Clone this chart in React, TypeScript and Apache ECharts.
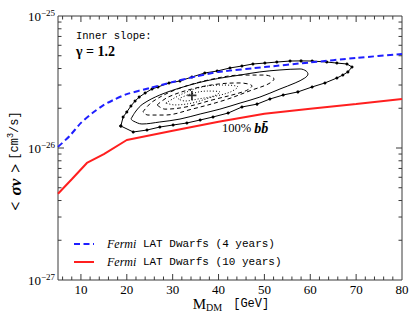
import React, { useEffect, useRef } from "react";
import * as echarts from "echarts";

// ---------- data (sigma v values are in units of 1e-26 cm^3/s) ----------
const UNIT_EXPONENT = -26;

const dwarfs4yName = "Fermi LAT Dwarfs (4 years)";
const dwarfs4yMass = [5, 7.5, 10, 12.5, 15, 17.5, 20, 25, 30, 35, 40, 50, 60, 70, 80];
const dwarfs4ySigma = [1.02, 1.23, 1.55, 1.84, 2.12, 2.35, 2.56, 2.85, 3.16, 3.48, 3.77, 4.1, 4.45, 4.81, 5.16];

const dwarfs10yName = "Fermi LAT Dwarfs (10 years)";
const dwarfs10yMass = [5, 8, 11.3, 15, 20, 30, 40, 50, 60, 70, 80];
const dwarfs10ySigma = [0.45, 0.58, 0.77, 0.9, 1.15, 1.35, 1.58, 1.82, 1.98, 2.15, 2.35];

// outermost contour (solid, with sample points)
const contourOuter: [number, number][] = [
  [18.7, 1.468], [19.2, 1.718], [20.0, 1.874], [20.9, 2.08], [21.8, 2.27], [22.7, 2.43],
  [24.0, 2.61], [25.5, 2.8], [26.8, 2.9], [29.2, 3.11], [31.6, 3.22], [34.2, 3.45],
  [37.0, 3.7], [39.7, 3.83], [42.5, 4.04], [45.1, 4.18], [47.5, 4.33], [50.1, 4.4],
  [52.7, 4.48], [55.6, 4.56], [58.0, 4.57], [60.4, 4.56], [63.6, 4.48], [65.8, 4.4],
  [68.0, 4.33], [69.1, 4.11], [68.2, 3.77], [67.1, 3.57], [65.8, 3.39], [63.2, 3.11],
  [60.4, 2.9], [57.3, 2.66], [54.1, 2.52], [51.2, 2.35], [48.4, 2.15], [45.1, 2.045],
  [42.1, 1.84], [38.8, 1.718], [36.0, 1.63], [33.1, 1.547], [30.1, 1.494], [27.2, 1.442],
  [24.4, 1.368], [21.4, 1.322], [18.7, 1.468],
];
// second contour (solid)
const contourSolid: [number, number][] = [
  [20.9, 1.657], [22.0, 1.906], [23.5, 2.155], [27.2, 2.52], [32.3, 2.9], [38.1, 3.27],
  [44.7, 3.57], [49.0, 3.77], [53.4, 3.9], [57.8, 3.97], [59.1, 3.83], [59.5, 3.63],
  [58.8, 3.39], [56.7, 3.11], [53.4, 2.8], [49.0, 2.43], [44.7, 2.19], [40.3, 1.97],
  [36.0, 1.81], [31.6, 1.657], [27.2, 1.574], [23.3, 1.52], [21.4, 1.602], [20.9, 1.657],
];
// dashed contours
const contourDashedA: [number, number][] = [
  [23.5, 1.874], [25.5, 2.23], [30.5, 2.75], [37.7, 3.27], [45.1, 3.57], [50.1, 3.57],
  [52.1, 3.33], [50.8, 3.05], [47.3, 2.75], [41.4, 2.31], [34.2, 1.97], [28.3, 1.777],
  [24.6, 1.777], [23.5, 1.874],
];
const contourDashedB: [number, number][] = [
  [26.6, 2.12], [29.0, 2.43], [34.2, 2.8], [39.9, 3.05], [44.7, 3.11], [47.3, 2.95],
  [45.8, 2.7], [38.6, 2.31], [32.7, 2.04], [28.3, 1.97], [26.6, 2.12],
];
// dotted contours
const contourDottedA: [number, number][] = [
  [28.5, 2.19], [32.0, 2.56], [36.4, 2.9], [40.8, 3.0], [44.2, 2.9], [42.5, 2.65],
  [38.6, 2.43], [34.2, 2.19], [30.5, 2.12], [28.5, 2.19],
];
const contourDottedB: [number, number][] = [
  [31.2, 2.35], [33.8, 2.56], [37.5, 2.7], [40.3, 2.65], [39.0, 2.48], [35.5, 2.35],
  [32.7, 2.27], [31.2, 2.35],
];
const bestFit: [number, number] = [34.2, 2.5];

// axes
const massMin = 5;
const massMax = 80;
const massTickLabels = [10, 20, 30, 40, 50, 60, 70, 80];
const massMajorTicks = [10, 20, 30, 40, 50, 60, 70];
const massMinorTicks = [6, 8, 12, 14, 16, 18, 22, 24, 26, 28, 32, 34, 36, 38, 42, 44, 46, 48,
  52, 54, 56, 58, 62, 64, 66, 68, 72, 74, 76, 78];
const sigmaMin = 0.1; // 1e-27
const sigmaMax = 10; // 1e-25
const sigmaMajorTicks = [1];
const sigmaMinorTicks = [0.2, 0.3, 0.4, 0.5, 0.6, 0.7, 0.8, 0.9, 2, 3, 4, 5, 6, 7, 8, 9];

const yTitle = "{op|<}{sv|σv}{op|>}{t|[cm}{sup|3}{t|/s]}";
const xTitle = "{m|M}{d|DM}{g|[GeV]}";
const annotationSlope = "Inner slope:";
const annotationGamma = "γ = 1.2";
const annotationChannel = "100% ";
const annotationChannelMath = "bb\u0304";

// ---------- styling ----------
const AXIS = "#3a3a3a";
const SERIF = '"Liberation Serif", "DejaVu Serif", serif';
const MONO = '"Liberation Mono", "DejaVu Sans Mono", monospace';
const BLUE = "#1f1fff";
const RED = "#ff1f1f";

const toPairs = (xs: number[], ys: number[]) => xs.map((x, i) => [x, ys[i]]);

export default function App() {
  const ref = useRef<HTMLDivElement>(null);

  useEffect(() => {
    document.body.style.margin = "0";
    if (!ref.current) return;
    const chart = echarts.init(ref.current, undefined, { renderer: "svg" });

    const tickData: number[][] = [
      ...massMajorTicks.map((v) => [v, 1, 0, 1]),
      ...massMinorTicks.map((v) => [v, 1, 0, 0]),
      ...sigmaMajorTicks.map((v) => [20, v, 1, 1]),
      ...sigmaMinorTicks.map((v) => [20, v, 1, 0]),
    ];

    const contourLine = (name: string, pts: [number, number][], type: any, smooth: number) => ({
      name,
      type: "line",
      data: pts,
      symbol: "none",
      smooth,
      z: 3,
      lineStyle: { color: "#000", width: 1, type },
      silent: true,
    });

    const option: any = {
      animation: false,
      grid: {
        left: 58, right: 13, top: 16, bottom: 32,
        outerBoundsMode: "none",
        containLabel: false,
        show: true, borderColor: AXIS, borderWidth: 1, backgroundColor: "transparent",
      },
      xAxis: {
        type: "value",
        min: massMin,
        max: massMax,
        axisLine: { show: false },
        axisTick: { show: false },
        splitLine: { show: false },
        axisLabel: {
          customValues: massTickLabels,
          fontFamily: SERIF, fontSize: 13, color: "#000", margin: 3,
        },
      },
      yAxis: {
        type: "log",
        logBase: 10,
        min: sigmaMin,
        max: sigmaMax,
        axisLine: { show: false },
        axisTick: { show: false },
        minorTick: { show: false },
        splitLine: { show: false },
        axisLabel: {
          margin: 3,
          formatter: (v: number) => {
            const e = Math.round(Math.log10(v)) + UNIT_EXPONENT;
            return `{b|10}{s|−${Math.abs(e)}}`;
          },
          rich: {
            b: { fontFamily: SERIF, fontSize: 13, color: "#000", lineHeight: 16 },
            s: { fontFamily: SERIF, fontSize: 9, color: "#000", lineHeight: 9, verticalAlign: "top" },
          },
        },
      },
      legend: {
        data: [dwarfs4yName, dwarfs10yName],
        orient: "vertical",
        left: 73,
        top: 238,
        padding: 0,
        itemWidth: 20,
        itemHeight: 12,
        itemGap: 6,
        itemStyle: { opacity: 0 },
        formatter: (n: string) => `{i|Fermi}{t|${n.replace("Fermi", "")}}`,
        textStyle: {
          color: "#000",
          fontFamily: MONO,
          fontSize: 11,
          lineHeight: 12,
          rich: {
            i: { fontFamily: SERIF, fontStyle: "italic", fontSize: 12, color: "#000", lineHeight: 12, padding: [0, 0, 0, 8] },
            t: { fontFamily: MONO, fontSize: 11, color: "#000", lineHeight: 12 },
          },
        },
      },
      graphic: [
        {
          type: "text", x: 15, y: 163, rotation: Math.PI / 2, silent: true,
          style: {
            text: yTitle,
            align: "center",
            verticalAlign: "middle",
            rich: {
              op: { fontFamily: SERIF, fontSize: 16, fontWeight: "bold", fill: "#000", lineHeight: 18, padding: [0, 4, 0, 4] },
              sv: { fontFamily: SERIF, fontSize: 17, fontWeight: "bold", fontStyle: "italic", fill: "#000", lineHeight: 18, padding: [0, 2, 0, 2] },
              t: { fontFamily: MONO, fontSize: 12, fill: "#000", lineHeight: 18 },
              sup: { fontFamily: MONO, fontSize: 8.5, fill: "#000", lineHeight: 9, verticalAlign: "top" },
            },
          },
        },
        {
          type: "text", x: 231, y: 304, silent: true,
          style: {
            text: xTitle,
            align: "center",
            verticalAlign: "middle",
            rich: {
              m: { fontFamily: SERIF, fontSize: 15, fill: "#000", lineHeight: 16 },
              d: { fontFamily: SERIF, fontSize: 10, fill: "#000", lineHeight: 10, verticalAlign: "bottom" },
              g: { fontFamily: MONO, fontSize: 12, fill: "#000", lineHeight: 16, padding: [0, 0, 0, 11] },
            },
          },
        },
        {
          type: "text", x: 76, y: 36, silent: true,
          style: { text: annotationSlope, fill: "#000", fontFamily: MONO, fontSize: 10.5, verticalAlign: "middle", align: "left" },
        },
        {
          type: "text", x: 76, y: 51, silent: true,
          style: { text: annotationGamma, fill: "#000", fontFamily: SERIF, fontSize: 14, fontWeight: "bold", verticalAlign: "middle", align: "left" },
        },
        {
          type: "text", x: 222, y: 128, silent: true,
          style: {
            text: `{n|${annotationChannel}}{b|${annotationChannelMath}}`,
            verticalAlign: "middle", align: "left",
            rich: {
              n: { fontFamily: SERIF, fontSize: 12.5, fill: "#000", lineHeight: 16 },
              b: { fontFamily: SERIF, fontSize: 14, fontStyle: "italic", fontWeight: "bold", fill: "#000", lineHeight: 16 },
            },
          },
        },
      ],
      series: [
        {
          name: "contour outer",
          type: "line",
          data: contourOuter,
          symbol: "circle",
          symbolSize: 3,
          showSymbol: true,
          itemStyle: { color: "#000" },
          lineStyle: { color: "#000", width: 1 },
          z: 3,
          silent: true,
        },
        contourLine("contour solid", contourSolid, "solid", 0.35),
        contourLine("contour dashed A", contourDashedA, [4, 3], 0.35),
        contourLine("contour dashed B", contourDashedB, [4, 3], 0.35),
        contourLine("contour dotted A", contourDottedA, [1, 2], 0.35),
        contourLine("contour dotted B", contourDottedB, [1, 2], 0.35),
        {
          name: dwarfs4yName,
          type: "line",
          data: toPairs(dwarfs4yMass, dwarfs4ySigma),
          symbol: "none",
          smooth: 0.2,
          z: 5,
          lineStyle: { color: BLUE, width: 2, type: [6, 3.5] },
          itemStyle: { color: BLUE },
        },
        {
          name: dwarfs10yName,
          type: "line",
          data: toPairs(dwarfs10yMass, dwarfs10ySigma),
          symbol: "none",
          z: 5,
          lineStyle: { color: RED, width: 2 },
          itemStyle: { color: RED },
        },
        {
          name: "best fit",
          type: "scatter",
          data: [bestFit],
          symbol: "path://M4,0H6V4H10V6H6V10H4V6H0V4H4Z",
          symbolSize: 9,
          itemStyle: { color: "#000" },
          z: 6,
          silent: true,
        },
        {
          name: "ticks",
          type: "custom",
          silent: true,
          z: 10,
          dimensions: ["x", "y", "kind", "major"],
          encode: { x: 0, y: 1 },
          data: tickData,
          renderItem: (params: any, api: any) => {
            const cs = params.coordSys;
            const kind = api.value(2);
            const len = api.value(3) ? 6 : 3.5;
            const style = { stroke: AXIS, lineWidth: 1 };
            if (kind === 0) {
              const x = api.coord([api.value(0), 1])[0];
              const b = cs.y + cs.height;
              const t = cs.y;
              return {
                type: "group",
                children: [
                  { type: "line", shape: { x1: x, y1: b, x2: x, y2: b - len }, style },
                  { type: "line", shape: { x1: x, y1: t, x2: x, y2: t + len }, style },
                ],
              };
            }
            const y = api.coord([20, api.value(1)])[1];
            const l = cs.x;
            const r = cs.x + cs.width;
            return {
              type: "group",
              children: [
                { type: "line", shape: { x1: l, y1: y, x2: l + len, y2: y }, style },
                { type: "line", shape: { x1: r, y1: y, x2: r - len, y2: y }, style },
              ],
            };
          },
        },
      ],
    };

    chart.setOption(option);
    return () => chart.dispose();
  }, []);

  return <div ref={ref} style={{ width: 415, height: 312 }} />;
}
